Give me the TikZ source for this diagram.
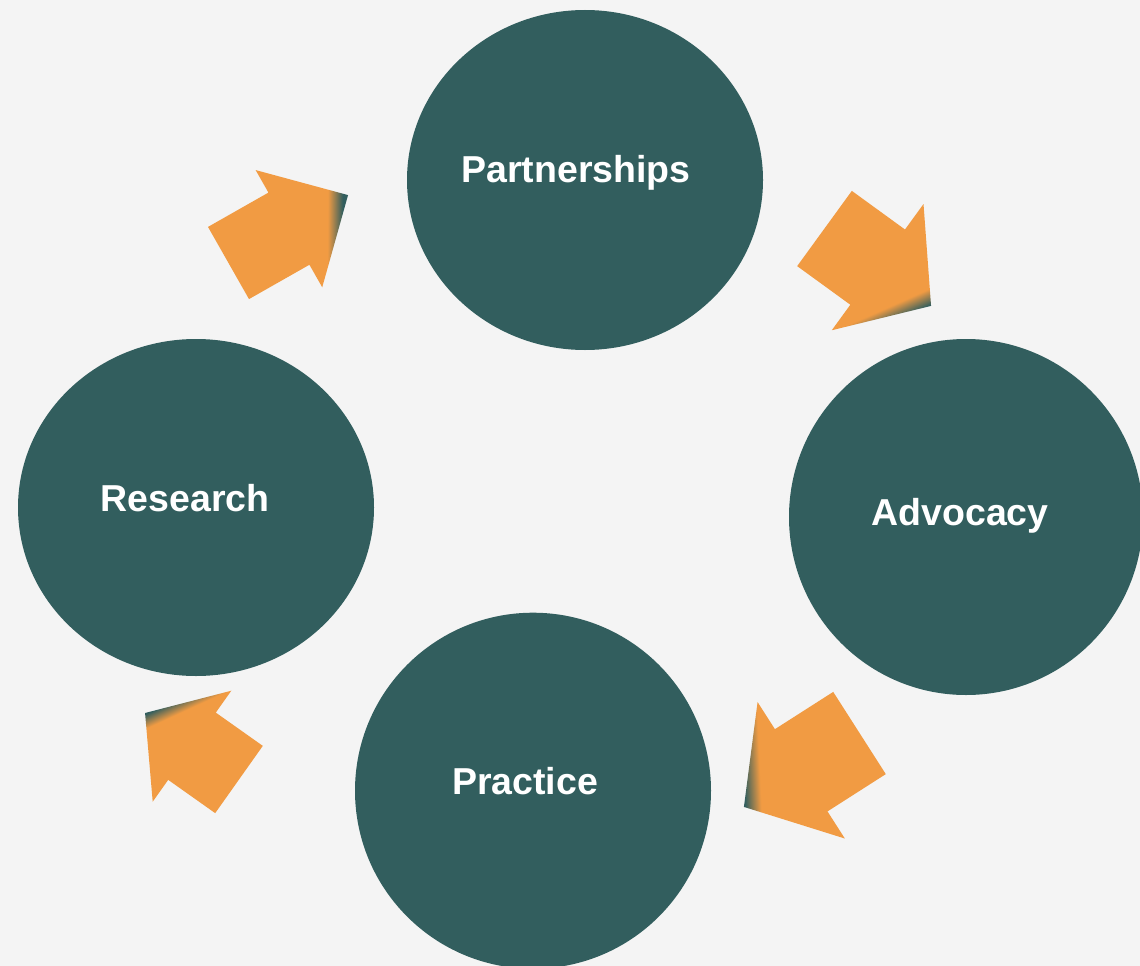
\documentclass[tikz,border=0pt]{standalone}
\usepackage{fontspec}
\setmainfont{Liberation Sans}
\usetikzlibrary{shapes.geometric}
\definecolor{slate}{HTML}{325E5E}
\definecolor{mango}{HTML}{F19B43}
\definecolor{paper}{HTML}{F4F4F4}
\pgfdeclarehorizontalshading{tipfade}{100bp}{color(0bp)=(mango); color(64.5bp)=(mango); color(70bp)=(slate); color(100bp)=(slate)}
\newcommand{\cyclearrow}[6]{%
\begin{scope}[transform canvas={shift={(#1)},rotate=#2}]
\shade [shading=tipfade,shading angle=-30] (0,-#3) -- (#4,-#3) -- (#4,-#5) -- ({#4+#6},0) -- (#4,#5) -- (#4,#3) -- (0,#3) -- cycle;
\end{scope}}
\begin{document}
\begin{tikzpicture}[x=1pt,y=-1pt]
\tikzstyle{blob} = [ellipse, fill=slate, inner sep=0pt]
\tikzstyle{word} = [text=white, font=\bfseries\fontsize{37.5}{40}\selectfont, text height=26.9pt, text depth=0pt, inner sep=0pt]
\useasboundingbox (0,0) rectangle (1140,966);
\fill [paper] (0,0) rectangle (1140,966);
\node [blob, minimum width=356pt, minimum height=340pt] (partners) at (585,180) {};
\node [blob, minimum width=354pt, minimum height=356pt] (advocacy) at (966,517) {};
\node [blob, minimum width=356pt, minimum height=356pt] (practice) at (533,790.7) {};
\node [blob, minimum width=356pt, minimum height=337pt] (research) at (196,507.5) {};
\node [word] at ([shift={(-9,-11)}]partners.center) {Partnerships};
\node [word] at ([shift={(-6,-4.5)}]advocacy.center) {Advocacy};
\node [word] at ([shift={(-8,-10)}]practice.center) {Practice};
\node [word] at ([shift={(-11,-9)}]research.center) {Research};
\coordinate (a1) at (228.5,263);
\coordinate (a2) at (824.5,228.5);
\coordinate (a3) at (859.5,733);
\coordinate (a4) at (239,779.5);
\cyclearrow{a1}{29.6}{41.5}{69.5}{67.4}{68}
\cyclearrow{a2}{-36}{46.5}{65.7}{78}{66}
\cyclearrow{a3}{212.6}{48.8}{69.2}{81}{68}
\cyclearrow{a4}{144.7}{41.2}{57.6}{68}{57.5}
\end{tikzpicture}
\end{document}
